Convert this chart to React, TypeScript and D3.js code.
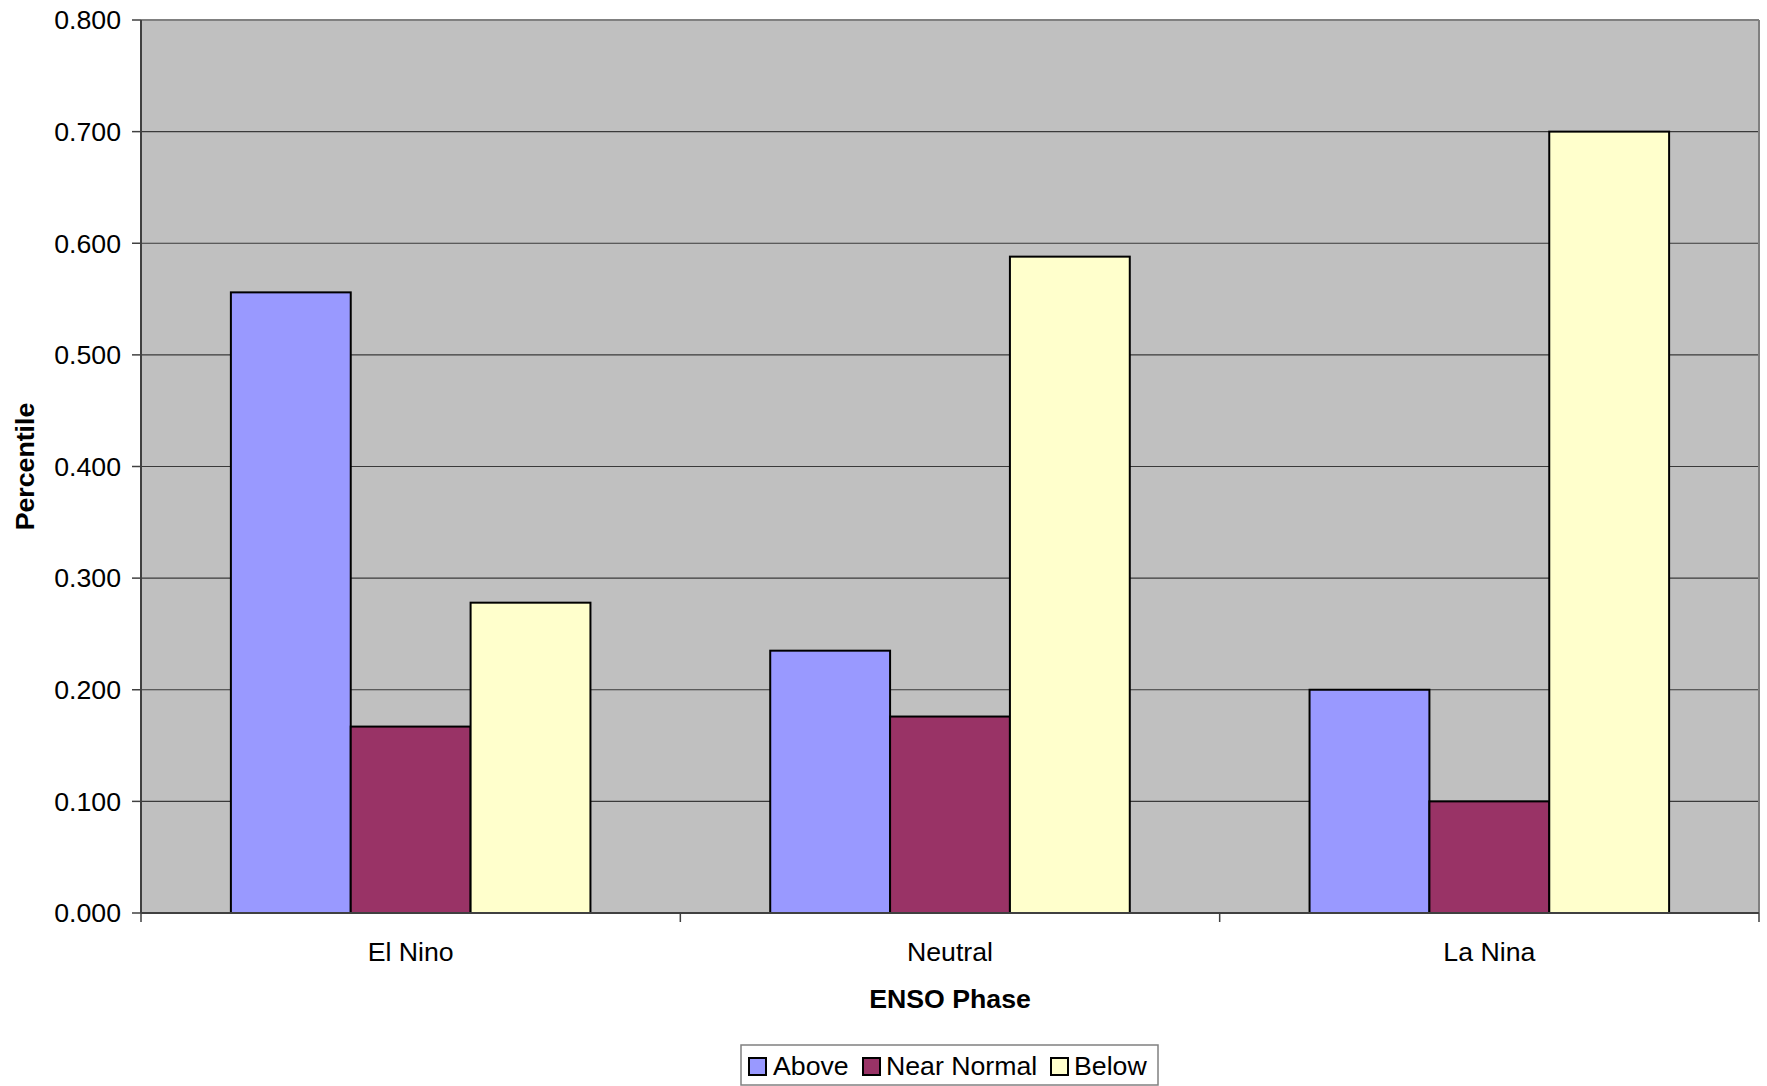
import React from "react";
import * as d3 from "d3";

const categories = ["El Nino", "Neutral", "La Nina"];
const seriesNames = ["Above", "Near Normal", "Below"];
const above = [0.556, 0.235, 0.2];
const nearNormal = [0.167, 0.176, 0.1];
const below = [0.278, 0.588, 0.7];
const yTicks = [0, 0.1, 0.2, 0.3, 0.4, 0.5, 0.6, 0.7, 0.8];
const colors = ["#9999FF", "#993366", "#FFFFCC"];

const W = 1767;
const H = 1086;
const left = 141;
const right = 1759;
const top = 20;
const bottom = 913;
const FONT = "'Liberation Sans', Arial, sans-serif";
const FS = 26.7;

export default function App() {
  const series = [above, nearNormal, below];
  const x0 = d3.scaleBand<string>().domain(categories).range([left, right]).paddingInner(0).paddingOuter(0);
  const cw = x0.bandwidth();
  const barW = cw / 4.5;
  const y = d3.scaleLinear().domain([0, 0.8]).range([bottom, top]);
  const fmt = d3.format(".3f");

  const legendX = 741;
  const legendY = 1045;
  const legendItems = [
    { name: seriesNames[0], x: 749, tx: 773 },
    { name: seriesNames[1], x: 863, tx: 886 },
    { name: seriesNames[2], x: 1051, tx: 1074 },
  ];

  return (
    <svg
      width={W}
      height={H}
      style={{ position: "absolute", left: 0, top: 0, display: "block", background: "#fff" }}
      fontFamily={FONT}
    >
      <rect x={left} y={top} width={right - left} height={bottom - top} fill="#C0C0C0" />
      {yTicks.slice(1).map((t) => (
        <line key={t} x1={left} x2={right} y1={y(t)} y2={y(t)} stroke="#3a3a3a" strokeWidth={1.2} />
      ))}
      <line x1={left} x2={right} y1={top} y2={top} stroke="#808080" strokeWidth={2} />
      <line x1={right} x2={right} y1={top} y2={bottom} stroke="#808080" strokeWidth={2} />

      {categories.map((c, ci) =>
        series.map((s, si) => {
          const bx = (x0(c) as number) + barW * 0.75 + si * barW;
          return (
            <rect
              key={c + si}
              x={bx}
              y={y(s[ci])}
              width={barW}
              height={bottom - y(s[ci])}
              fill={colors[si]}
              stroke="#000"
              strokeWidth={2}
            />
          );
        })
      )}

      <line x1={left} x2={left} y1={top} y2={bottom} stroke="#404040" strokeWidth={2} />
      <line x1={left} x2={right} y1={bottom} y2={bottom} stroke="#404040" strokeWidth={2} />
      {yTicks.map((t) => (
        <g key={t}>
          <line x1={left - 9} x2={left} y1={y(t)} y2={y(t)} stroke="#404040" strokeWidth={1.5} />
          <text x={121} y={y(t)} dy="0.35em" textAnchor="end" fontSize={FS} fill="#000">
            {fmt(t)}
          </text>
        </g>
      ))}
      {[...categories.map((c) => x0(c) as number), right].map((xv, i) => (
        <line key={i} x1={xv} x2={xv} y1={bottom} y2={bottom + 9} stroke="#404040" strokeWidth={1.5} />
      ))}
      {categories.map((c) => (
        <text
          key={c}
          x={(x0(c) as number) + cw / 2}
          y={952}
          dy="0.35em"
          textAnchor="middle"
          fontSize={FS}
          fill="#000"
        >
          {c}
        </text>
      ))}
      <text x={(left + right) / 2} y={998.5} dy="0.35em" textAnchor="middle" fontSize={FS} fontWeight="bold">
        ENSO Phase
      </text>
      <text
        transform={`translate(25,${(top + bottom) / 2}) rotate(-90)`}
        dy="0.35em"
        textAnchor="middle"
        fontSize={FS}
        fontWeight="bold"
      >
        Percentile
      </text>

      <rect x={legendX} y={legendY} width={417} height={40} fill="#fff" stroke="#808080" strokeWidth={1.5} />
      {legendItems.map((it, i) => (
        <g key={it.name}>
          <rect x={it.x} y={1058} width={17} height={17} fill={colors[i]} stroke="#000" strokeWidth={2} />
          <text x={it.tx} y={1075} fontSize={FS} fill="#000">
            {it.name}
          </text>
        </g>
      ))}
    </svg>
  );
}
